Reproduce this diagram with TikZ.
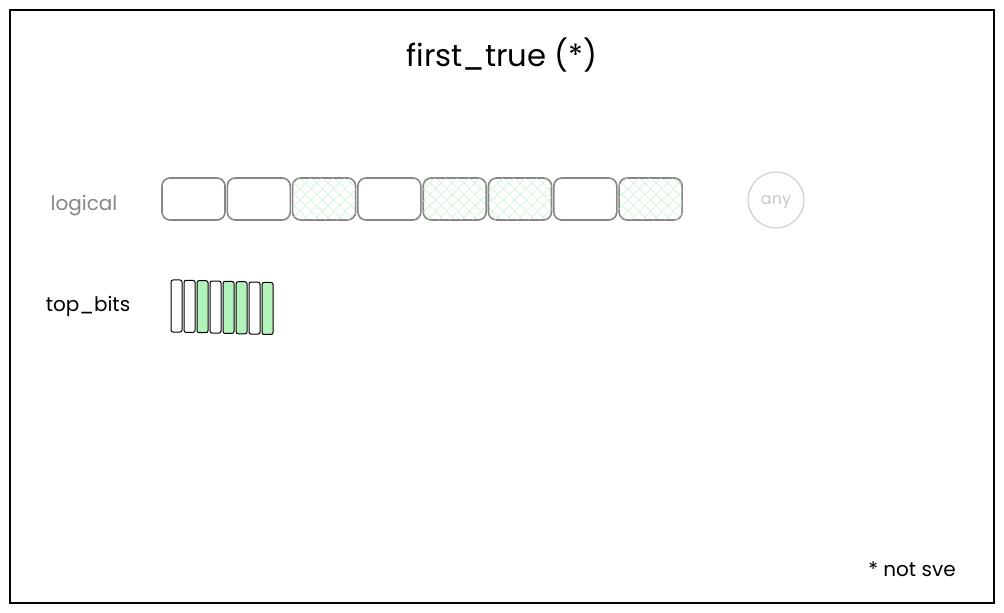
\documentclass[tikz,border=0pt]{standalone}
\usepackage{fontspec}
\setmainfont{Poppins}
\usetikzlibrary{patterns.meta}
\definecolor{hatch}{HTML}{B2F2BB}
\definecolor{hatchline}{HTML}{C8F2CE}
\definecolor{boxgray}{HTML}{868686}
\definecolor{lightgray}{HTML}{C8C8C8}
\tikzset{
  lbox/.style={draw=boxgray, line width=1.6pt*0.75, rounded corners=6pt, minimum width=63*0.75pt, minimum height=42*0.75pt, inner sep=0pt},
  hatched/.style={postaction={pattern={Lines[angle=45,distance=6pt,line width=0.4pt]}, pattern color=hatchline},
                  preaction={pattern={Lines[angle=-45,distance=6pt,line width=0.4pt]}, pattern color=hatchline}},
  bit/.style={draw=black, line width=0.75pt, rounded corners=1.5pt, minimum width=11*0.75pt, minimum height=52*0.75pt, inner sep=0pt},
  on/.style={fill=hatch},
  lbl/.style={font=\fontsize{15}{18}\selectfont},
}
\begin{document}
\begin{tikzpicture}[x=0.75pt,y=-0.75pt]
\useasboundingbox (0,0) rectangle (1004,613);
\draw[line width=1.2pt] (10,10) rectangle (994,603);
\node[font=\fontsize{23}{27}\selectfont] (title) at (502,55) {first\_true (*)};
\node[lbl, text=boxgray] (logical) at (84,206) {logical};
\foreach \i/\h in {1/0,2/0,3/1,4/0,5/1,6/1,7/0,8/1}{
  \pgfmathsetmacro{\cx}{193.5+65.3*(\i-1)}
  \ifnum\h=1
    \node[lbox, hatched] (l\i) at (\cx,199) {};
  \else
    \node[lbox] (l\i) at (\cx,199) {};
  \fi
}
\node[circle, draw=lightgray, line width=0.75pt, minimum size=56*0.75pt, inner sep=0pt, text=lightgray, font=\fontsize{12}{14}\selectfont] (any) at (776,200) {\smash{\raisebox{-3.5pt}{any}}};
\node[lbl] (topbits) at (88,306) {top\_bits};
\foreach \i/\h in {1/0,2/0,3/1,4/0,5/1,6/1,7/0,8/1}{
  \pgfmathsetmacro{\bx}{176.5+13*(\i-1)}
  \pgfmathsetmacro{\by}{306+0.35*(\i-1)}
  \ifnum\h=1
    \node[bit, on] (b\i) at (\bx,\by) {};
  \else
    \node[bit] (b\i) at (\bx,\by) {};
  \fi
}
\node[lbl] (note) at (912,569) {* not sve};
\end{tikzpicture}
\end{document}
